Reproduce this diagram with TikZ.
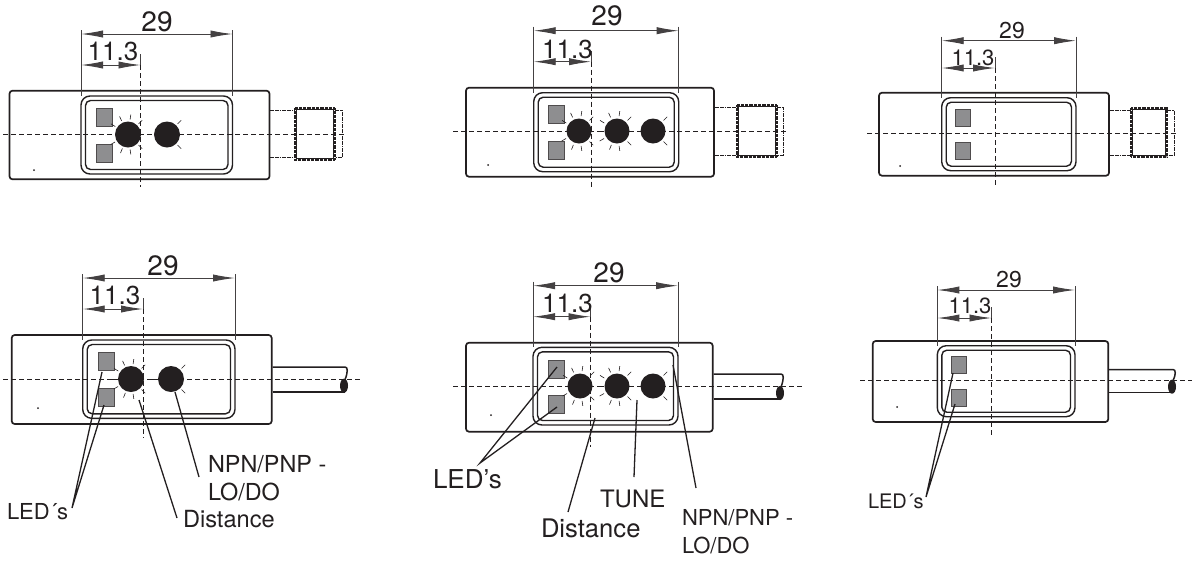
\documentclass[tikz,border=0pt]{standalone}
\usepackage{fontspec}
\setmainfont{TeX Gyre Heros}
\usetikzlibrary{arrows.meta}
\definecolor{ledgray}{HTML}{8E8E90}
\definecolor{inkblack}{HTML}{231F20}

\begin{document}
\begin{tikzpicture}[x=0.5pt, y=-0.5pt]
    \useasboundingbox (0,0) rectangle (1192,563);
    \tikzstyle{every node}=[inner sep=0pt, outer sep=0pt, text=inkblack]
    \tikzstyle{housing}=[inkblack, line width=0.85pt, rounded corners=1.5pt]
    \tikzstyle{window}=[inkblack, line width=0.7pt]
    \tikzstyle{axis}=[inkblack, line width=0.45pt, dash pattern=on 2.5pt off 1.5pt]
    \tikzstyle{extline}=[inkblack!85, line width=0.45pt]
    \tikzstyle{dimline}=[inkblack!85, line width=0.45pt, {Latex[length=11pt,width=3.6pt]}-{Latex[length=11pt,width=3.6pt]}]
    \tikzstyle{leader}=[inkblack, line width=0.65pt]
    \tikzstyle{neck}=[inkblack, line width=0.4pt, dash pattern=on 0.9pt off 0.3pt]
    \tikzstyle{nut}=[inkblack, line width=1.3pt, dash pattern=on 0.45pt off 0.2pt]
    \tikzstyle{cable}=[inkblack, line width=0.75pt]
    \tikzstyle{knob}=[circle, fill=inkblack]
    \tikzstyle{ray}=[inkblack, line width=0.3pt]
    \tikzstyle{label}=[anchor=base west, font=\fontsize{#1}{#1}\selectfont]
    \tikzstyle{dimlabel}=[anchor=base, font=\fontsize{#1}{#1}\selectfont]

    % housing, window, centre axis
    \foreach \p/\bl/\br/\bt/\bb/\wl/\wr/\wt/\wb/\ay/\al/\ar in {
        1/9.5/269.5/90.7/179.3/81/232.5/96/174/134.3/3/347,
        2/466/714/87.7/176.7/533.7/678.7/92.7/171.7/131/453/788,
        3/879/1109/92.7/175.7/941.7/1076/97.7/170.7/133.5/867/1177,
        4/11.7/271.7/335/424/82.7/235/340/418.3/379/3/362,
        5/466/712.7/342.7/431.7/533/678/347.3/425/386/453/803,
        6/872.7/1108.3/341/422/937.3/1075/345.7/416.7/380.7/860/1192} {
        \draw[housing] (\bl,\bt) rectangle (\br,\bb);
        \draw[window, rounded corners=4.5pt] (\wl,\wt) rectangle (\wr,\wb);
        \draw[window, rounded corners=2.5pt] (\wl+4.5,\wt+4.5) rectangle (\wr-4.5,\wb-4.5);
        \coordinate (axl\p) at (\al,\ay);
        \coordinate (axr\p) at (\ar,\ay);
        \draw[axis] (axl\p) -- (axr\p);
    }

    % dimensions
    \foreach \p/\wl/\wr/\wt/\mx/\my/\dy/\hy in {
        1/81/232.5/96/140.5/187/34/65,
        2/533.7/678.7/92.7/591/189/30.7/61.7,
        3/941.7/1076/97.7/995/188/40.7/68,
        4/82.7/235/340/143/438/278/309,
        5/533/678/347.3/590.5/447/285.7/316.7,
        6/937.3/1075/345.7/991.5/435/290/318} {
        \coordinate (wa\p) at (\wl,\dy);
        \coordinate (wb\p) at (\wr,\dy);
        \coordinate (ha\p) at (\wl,\hy);
        \coordinate (hb\p) at (\mx,\hy);
        \draw[extline] (\wl,\dy-4) -- (\wl,\wt);
        \draw[extline] (\wr,\dy-4) -- (\wr,\wt);
        \draw[extline] (\mx,\hy-11) -- (hb\p);
        \draw[axis] (hb\p) -- (\mx,\my);
        \draw[dimline] (wa\p) -- (wb\p);
        \draw[dimline] (ha\p) -- (hb\p);
    }

    \node[dimlabel=14] (w1) at (157,31) {29};
    \node[dimlabel=13] (h1) at (113,60) {11.3};
    \node[dimlabel=14] (w2) at (607,25) {29};
    \node[dimlabel=13] (h2) at (567.5,58) {11.3};
    \node[dimlabel=11.5] (w3) at (1012,38) {29};
    \node[dimlabel=11] (h3) at (973,65.7) {11.3};
    \node[dimlabel=14] (w4) at (163,275) {29};
    \node[dimlabel=13] (h4) at (115,304) {11.3};
    \node[dimlabel=14] (w5) at (609,282) {29};
    \node[dimlabel=13] (h5) at (567.5,312) {11.3};
    \node[dimlabel=11.5] (w6) at (1009,287) {29};
    \node[dimlabel=11] (h6) at (970,313) {11.3};

    % LEDs
    \tikzstyle{led}=[rectangle, fill=ledgray, draw=inkblack!80, line width=0.35pt, minimum width=8pt, minimum height=9pt]
    \node[led] (led1a) at (104.5,117) {};
    \node[led] (led1b) at (104.5,153) {};
    \node[led] (led2a) at (556,114) {};
    \node[led] (led2b) at (556,150) {};
    \node[led] (led4a) at (106.5,361.5) {};
    \node[led] (led4b) at (106.5,397) {};
    \node[led] (led5a) at (556,369) {};
    \node[led] (led5b) at (556,404) {};

    \tikzstyle{led}=[rectangle, fill=ledgray, draw=inkblack!80, line width=0.35pt, minimum width=7.5pt, minimum height=8.5pt]
    \node[led] (led3a) at (962.5,117.5) {};
    \node[led] (led3b) at (962.5,150.5) {};
    \node[led] (led6a) at (958.5,365) {};
    \node[led] (led6b) at (959,397.5) {};

    % knobs
    \node[knob, minimum size=13pt] (k1a) at (128,134.5) {};
    \node[knob, minimum size=13pt] (k1b) at (167,134.5) {};
    \node[knob, minimum size=12.5pt] (k2a) at (579,131) {};
    \node[knob, minimum size=12.5pt] (k2b) at (617,131) {};
    \node[knob, minimum size=12.5pt] (k2c) at (653,131) {};
    \node[knob, minimum size=13pt] (k4a) at (131,379) {};
    \node[knob, minimum size=13pt] (k4b) at (171,379) {};
    \node[knob, minimum size=12.5pt] (k5a) at (580,386) {};
    \node[knob, minimum size=12.5pt] (k5b) at (617,386) {};
    \node[knob, minimum size=12.5pt] (k5c) at (653,386) {};

    \foreach \k in {k1a,k2a,k2b,k4a,k5a,k5b}
        \foreach \a in {45,82,112,150,212,245,278,315}
            \draw[ray] (\k) ++(\a:15) -- ++(\a:5);
    \foreach \k in {k1b,k2c,k4b,k5c}
        \foreach \a in {45,-45}
            \draw[ray] (\k) ++(\a:15) -- ++(\a:5);
    \draw[ray] (k4a) ++(180:13.5) -- ++(180:6);
    \draw[ray] (k4b) ++(180:13.5) -- ++(180:6);
    \draw[ray] (k2b) ++(180:13.5) -- ++(180:5);
    \draw[ray] (k5b) ++(180:13.5) -- ++(180:6);

    % M12 plug
    \foreach \p/\nl/\ns/\nr/\nt/\nb/\ex/\et/\eb in {
        1/270/295/335/108/160/342.7/110/157,
        2/715/737/777/105/157/783/107/155,
        3/1110/1131/1167/108/157/1174/110.7/155.7} {
        \draw[neck] (\nl,\et) -- (\ns,\et);
        \draw[neck] (\nl,\eb) -- (\ns,\eb);
        \draw[neck] (\nr,\et) -- (\ex,\et) -- (\ex,\eb) -- (\nr,\eb);
        \draw[nut] (\ns,\nt) rectangle (\nr,\nb);
        \draw[inkblack, line width=0.4pt] (\ns+1.5,\nt+1.5) rectangle (\nr-1.5,\nb-1.5);
    }

    % cable
    \foreach \p/\cl/\ct/\cb/\ce/\ey in {
        4/272.5/367/392/345/385.7,
        5/713.5/374/399/781/393,
        6/1109/369.5/392.7/1173/386.7} {
        \draw[cable] (\cl,\cb) -- (\ce,\cb);
        \draw[cable] (\cl,\ct) -- (\ce,\ct) .. controls (\ce+3,\ct) and (\ce+3,\ct+5) .. (\ce,\ey-6);
        \fill[inkblack] (\ce-1,\ey) ellipse (4 and 7);
    }

    % leaders and their texts
    \node[label=11] (ledtext4) at (7,519) {LED´s};
    \node[label=11.8] (disttext4) at (183,527) {Distance};
    \node[label=11.7] (npntext4) at (208,472) {NPN/PNP -};
    \node[label=11.7] (lotext4) at (208,500) {LO/DO};
    \coordinate (ledj4) at (72,508);
    \coordinate (ledp4a) at (102,372);
    \coordinate (ledp4b) at (104,405);
    \coordinate (distj4) at (177,518);
    \coordinate (distp4) at (139,400);
    \coordinate (npnj4) at (199,477);
    \coordinate (npnp4) at (175,392);
    \draw[leader] (ledp4a) -- (ledj4) -- (ledp4b);
    \draw[leader] (distj4) -- (distp4);
    \draw[leader] (npnj4) -- (npnp4);

    \node[label=13] (ledtext5) at (433,488) {LED’s};
    \node[label=12] (tunetext5) at (600,507) {TUNE};
    \node[label=12.8] (disttext5) at (541,537) {Distance};
    \node[label=11] (npntext5) at (682,525) {NPN/PNP -};
    \node[label=11] (lotext5) at (682,553) {LO/DO};
    \coordinate (ledj5) at (480,463);
    \coordinate (ledp5a) at (557,367);
    \coordinate (ledp5b) at (557,407);
    \coordinate (distj5) at (568,512);
    \coordinate (distp5) at (595,418);
    \coordinate (tunej5) at (634,477);
    \coordinate (tunep5) at (637,400);
    \coordinate (npnj5) at (696,488);
    \coordinate (npnp5) at (673,365);
    \draw[leader] (ledp5a) -- (ledj5) -- (ledp5b);
    \draw[leader] (distj5) -- (distp5);
    \draw[leader] (tunej5) -- (tunep5);
    \draw[leader] (npnj5) -- (npnp5);

    \node[label=10] (ledtext6) at (868,508) {LED´s};
    \coordinate (ledj6) at (926,497);
    \coordinate (ledp6a) at (953,373);
    \coordinate (ledp6b) at (955,404);
    \draw[leader] (ledp6a) -- (ledj6) -- (ledp6b);

    % specks from the scan
    \foreach \x/\y in {34/170, 488/165, 900/166, 38/408, 491/415, 897/407}
        \fill[inkblack] (\x,\y) circle (1);
\end{tikzpicture}
\end{document}
